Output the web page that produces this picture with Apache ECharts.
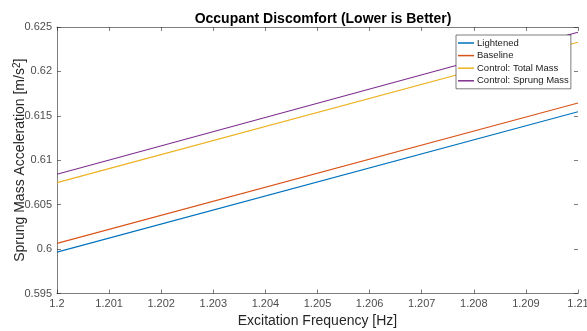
<!DOCTYPE html>
<html>
<head>
<meta charset="utf-8">
<script src="https://cdn.jsdelivr.net/npm/echarts@6/dist/echarts.min.js"></script>
<style>html,body{margin:0;padding:0;background:#fff;}#c{width:587px;height:331px;}</style>
</head>
<body>
<div id="c"></div>
<script>
const freq = [1.2, 1.21];
const lightened = [0.59966, 0.61547];
const baseline = [0.60064, 0.61645];
const totalMass = [0.60748, 0.62329];
const sprungMass = [0.60842, 0.62441];
const seriesNames = ['Lightened', 'Baseline', 'Control: Total Mass', 'Control: Sprung Mass'];
const colors = ['#0072BD', '#D95319', '#EDB120', '#7E2F8E'];
const values = [lightened, baseline, totalMass, sprungMass];

const font = 'Liberation Sans, Arial, Helvetica, sans-serif';
const axisCol = '#262626';
const chart = echarts.init(document.getElementById('c'));
const xBase = {
  type: 'value', min: 1.2, max: 1.21, interval: 0.001,
  axisLine: {show: true, lineStyle: {color: axisCol, width: 0.6}},
  axisTick: {show: true, inside: true, length: 4, lineStyle: {color: axisCol, width: 0.6}},
  splitLine: {show: false}
};
const yBase = {
  type: 'value', min: 0.595, max: 0.625, interval: 0.005,
  axisLine: {show: true, lineStyle: {color: axisCol, width: 0.6}},
  axisTick: {show: true, inside: true, length: 4, lineStyle: {color: axisCol, width: 0.6}},
  splitLine: {show: false}
};
chart.setOption({
  animation: false,
  backgroundColor: '#fff',
  title: {
    text: 'Occupant Discomfort (Lower is Better)',
    left: 318, top: 7, textAlign: 'center',
    textStyle: {fontFamily: font, fontSize: 14, fontWeight: 'bold', color: '#000'}
  },
  grid: {left: 57, right: 9, top: 27, bottom: 37.5, containLabel: false, outerBoundsMode: 'none'},
  legend: {
    data: seriesNames,
    orient: 'vertical', left: 456, top: 35,
    itemWidth: 16, itemHeight: 1.5, itemGap: 2.6,
    padding: [3, 2, 3, 2],
    backgroundColor: '#fff', borderColor: axisCol, borderWidth: 0.6,
    icon: 'rect',
    textStyle: {fontFamily: font, fontSize: 9.5, color: '#1a1a1a', padding: [0, 0, 0, -2]}
  },
  xAxis: [
    Object.assign({}, xBase, {
      position: 'bottom',
      name: 'Excitation Frequency [Hz]', nameLocation: 'middle', nameGap: 21, nameMoveOverlap: false,
      nameTextStyle: {fontFamily: font, fontSize: 14, color: axisCol},
      axisLabel: {fontFamily: font, fontSize: 11, color: '#4d4d4d', margin: 5,
        formatter: v => String(+v.toFixed(3))}
    }),
    Object.assign({}, xBase, {position: 'top', axisLabel: {show: false}})
  ],
  yAxis: [
    Object.assign({}, yBase, {
      position: 'left',
      name: 'Sprung Mass Acceleration [m/s{sup|2}]', nameLocation: 'middle', nameGap: 28, nameMoveOverlap: false,
      nameTextStyle: {fontFamily: font, fontSize: 14, color: axisCol,
        rich: {sup: {fontFamily: font, fontSize: 10, color: axisCol, verticalAlign: 'top', padding: [0, 0, 7, 0]}}},
      axisLabel: {fontFamily: font, fontSize: 11, color: '#4d4d4d', margin: 5,
        formatter: v => String(+v.toFixed(3))}
    }),
    Object.assign({}, yBase, {position: 'right', axisLine: {show: false}, axisLabel: {show: false}})
  ],
  series: values.map((vals, i) => ({
    name: seriesNames[i], type: 'line', xAxisIndex: 0, yAxisIndex: 0,
    data: freq.map((f, j) => [f, vals[j]]),
    showSymbol: false, symbol: 'none',
    lineStyle: {color: colors[i], width: 1.1},
    itemStyle: {color: colors[i]}
  }))
});
</script>
</body>
</html>
